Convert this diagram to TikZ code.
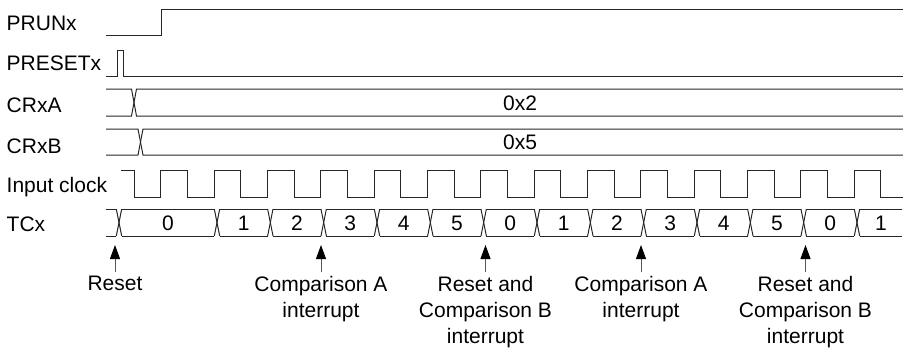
\documentclass[tikz,border=0pt]{standalone}
\usepackage{fontspec}
\setmainfont{Liberation Sans}
\usetikzlibrary{arrows.meta}
\begin{document}
\begin{tikzpicture}[x=1pt,y=-1pt,
  sig/.style={line width=1pt, draw=black!85},
  lbl/.style={anchor=base west, inner sep=0pt, font=\fontsize{21}{26}\selectfont},
  val/.style={anchor=base, inner sep=0pt, font=\fontsize{21}{26}\selectfont},
  note/.style={anchor=north, inner sep=0pt, align=center, font=\fontsize{21}{26}\selectfont},
  evt/.style={line width=1pt, draw=black!65, -{Triangle[width=10pt,length=14pt,color=black]}}]
\useasboundingbox (0,0) rectangle (903,349);

% signal names
\node[lbl] (lprun) at (6.5,30) {PRUNx};
\node[lbl] (lpreset) at (6.5,70) {PRESETx};
\node[lbl] (lcra) at (6.5,112) {CRxA};
\node[lbl] (lcrb) at (6.5,153) {CRxB};
\node[lbl] (lclk) at (6.5,192) {Input clock};
\node[lbl] (ltc) at (6.5,231) {TCx};

% PRUNx
\draw[sig] (106,35) -- (161,35) -- (161,9) -- (903,9);
% PRESETx
\draw[sig] (106,76) -- (117,76) -- (117,50) -- (123.5,50) -- (123.5,76) -- (903,76);
% CRxA
\draw[sig] (106,89) -- (131.5,89) -- (136.5,116) -- (903,116);
\draw[sig] (106,116) -- (131.5,116) -- (136.5,89) -- (903,89);
\node[val] (va) at (520,110.5) {0x2};
% CRxB
\draw[sig] (106,129) -- (138,129) -- (143,155) -- (903,155);
\draw[sig] (106,155) -- (138,155) -- (143,129) -- (903,129);
\node[val] (vb) at (520,149.5) {0x5};

% Input clock
\draw[sig] (121,170) \foreach \k in {0,...,13} {
   -- ({134+53.3333*\k},170) -- ({134+53.3333*\k},197)
   -- ({160.6667+53.3333*\k},197) -- ({160.6667+53.3333*\k},170) }
   -- (880.667,170) -- (880.667,197) -- (903,197);

% TCx bus
\def\hw{2.7}
\draw[sig] (106,209) -- ({119-\hw},209);
\draw[sig] (106,236) -- ({119-\hw},236);
\foreach \c in {119,217,270.33,323.67,377,430.33,483.67,537,590.33,643.67,697,750.33,803.67,857} {
  \draw[sig] ({\c-\hw},209) -- ({\c+\hw},236);
  \draw[sig] ({\c-\hw},236) -- ({\c+\hw},209);
}
\foreach \a/\b in {119/217,217/270.33,270.33/323.67,323.67/377,377/430.33,430.33/483.67,483.67/537,537/590.33,590.33/643.67,643.67/697,697/750.33,750.33/803.67,803.67/857,857/905} {
  \draw[sig] ({\a+\hw},209) -- ({\b-\hw},209);
  \draw[sig] ({\a+\hw},236) -- ({\b-\hw},236);
}
\foreach \x/\v [count=\n] in {168/0,243.67/1,297/2,350.33/3,403.67/4,457/5,510.33/0,563.67/1,617/2,670.33/3,723.67/4,777/5,830.33/0,881/1} {
  \node[val] (tc\n) at (\x,230.5) {\v};
}

% events
\coordinate (t1) at (115,245);
\coordinate (t2) at (321,245);
\coordinate (t3) at (485.5,245);
\coordinate (t4) at (641,245);
\coordinate (t5) at (805.5,245);
\node[note] (n1) at (115,276) {Reset};
\node[note] (n2) at (321,276) {Comparison A\\interrupt};
\node[note] (n3) at (485.5,276) {Reset and\\Comparison B\\interrupt};
\node[note] (n4) at (641,276) {Comparison A\\interrupt};
\node[note] (n5) at (805.5,276) {Reset and\\Comparison B\\interrupt};
\foreach \i in {1,...,5} {
  \draw[evt] ([yshift=4pt]n\i.north) -- (t\i);
}
\end{tikzpicture}
\end{document}
